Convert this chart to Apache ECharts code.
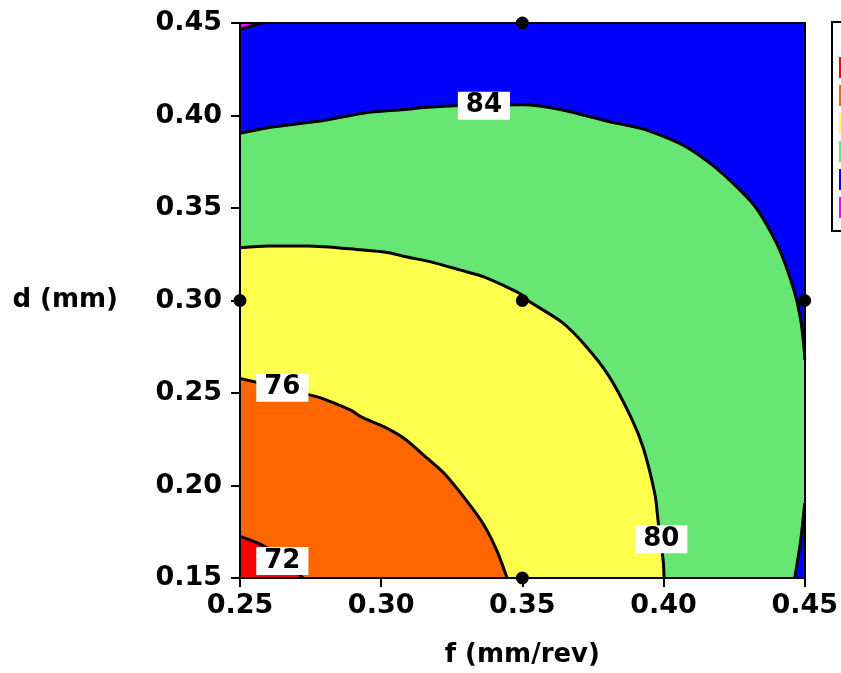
<!DOCTYPE html>
<html lang="en">
<head>
<meta charset="UTF-8">
<title>contour</title>
<script src="https://cdn.jsdelivr.net/npm/echarts@6/dist/echarts.min.js"></script>
<style>
    body{margin:0;background:#fff;}
    #main{width:841px;height:673px;}
</style>
</head>
<body>
<div id="main"></div>
<script>
// contour lines: [f, d]
var contour72 = [[0.25,0.1725],[0.2577,0.1679],[0.2659,0.1597],[0.2723,0.15]];
var contour76 = [[0.25,0.2579],[0.2753,0.2487],[0.2800,0.2466],[0.2894,0.2406],[0.2929,0.2371],[0.3011,0.2317],
    [0.3082,0.2254],[0.3164,0.2146],[0.3223,0.2066],[0.3305,0.1913],[0.3364,0.1787],[0.3411,0.1644],[0.3446,0.15]];
var contour80 = [[0.25,0.3285],[0.2600,0.3295],[0.2741,0.3295],[0.2929,0.3274],[0.3023,0.3260],[0.3082,0.3238],
    [0.3176,0.3209],[0.3282,0.3164],[0.3364,0.3128],[0.3435,0.3080],[0.3494,0.3035],[0.3511,0.3008],[0.3640,0.2883],
    [0.3723,0.2757],[0.3805,0.2595],[0.3887,0.2362],[0.3929,0.2200],[0.3970,0.1949],[0.3981,0.1807],[0.3999,0.1592],[0.4002,0.15]];
var contour84 = [[0.25,0.3904],[0.2599,0.3934],[0.2800,0.3974],[0.2941,0.4014],[0.3070,0.4031],[0.3163,0.4044],
    [0.3258,0.4053],[0.3505,0.4058],[0.3639,0.4031],[0.3805,0.3968],[0.3935,0.3924],[0.4076,0.3834],[0.4193,0.3708],
    [0.4323,0.3511],[0.4405,0.3295],[0.4464,0.3046],[0.4487,0.2884],[0.4499,0.2723],[0.45,0.268]];
var contour84b = [[0.4465,0.15],[0.4487,0.1716],[0.45,0.1904]];
var contour88 = [[0.25,0.4465],[0.2577,0.45]];
var topEdge = [[0.25,0.45],[0.45,0.45]];
var designPoints = [[0.35,0.45],[0.25,0.30],[0.35,0.30],[0.45,0.30],[0.35,0.15]];
var contourLabels = [[0.3364,0.4053,'84'],[0.3992,0.1710,'80'],[0.2650,0.2529,'76'],[0.2650,0.1592,'72']];
var bandNames = ['< 72','72 - 76','76 - 80','80 - 84','84 - 88','> 88'];
var bandColors = ['#ff0000','#ff6600','#ffff4d','#68e674','#0000ff','#ff00ff'];

var font = 'DejaVu Sans';
var myChart = echarts.init(document.getElementById('main'));

function band(name, data, color, origin, lineW) {
    return {
        name: name,
        type: 'line',
        data: data,
        showSymbol: false,
        smooth: 0.25,
        silent: true,
        itemStyle: {color: color},
        lineStyle: {color: '#000', width: lineW},
        areaStyle: {color: color, opacity: 1, origin: origin}
    };
}

var option = {
    animation: false,
    grid: {left: 240, right: 34, top: 23, bottom: 93},
    legend: {
        orient: 'vertical',
        left: 832,
        top: 22,
        padding: [35, 6, 13, 7],
        itemWidth: 20,
        itemHeight: 21,
        itemGap: 7,
        icon: 'rect',
        borderColor: '#000',
        borderWidth: 2,
        textStyle: {fontFamily: font, fontSize: 16},
        data: bandNames.map(function (n, i) {
            return {name: n, itemStyle: {color: bandColors[i], borderWidth: 0}};
        })
    },
    xAxis: [{
        type: 'value',
        min: 0.25, max: 0.45, interval: 0.05,
        z: 5,
        name: 'f (mm/rev)',
        nameLocation: 'middle',
        nameGap: 64,
        nameTextStyle: {fontFamily: font, fontWeight: 'bold', fontSize: 26, color: '#000'},
        axisLine: {lineStyle: {color: '#000', width: 2}},
        axisTick: {length: 9, lineStyle: {color: '#000', width: 2}},
        axisLabel: {margin: 14, fontFamily: font, fontWeight: 'bold', fontSize: 27, color: '#000',
            formatter: function (v) { return v.toFixed(2); }},
        splitLine: {show: false}
    }, {
        type: 'value', position: 'top', min: 0.25, max: 0.45, z: 5,
        axisLine: {show: true, lineStyle: {color: '#000', width: 2}},
        axisTick: {show: false}, axisLabel: {show: false}, splitLine: {show: false}
    }],
    yAxis: [{
        type: 'value',
        min: 0.15, max: 0.45, interval: 0.05,
        z: 5,
        name: 'd (mm)',
        nameLocation: 'middle',
        nameRotate: 0,
        nameGap: 122,
        nameTextStyle: {fontFamily: font, fontWeight: 'bold', fontSize: 26, color: '#000', align: 'right'},
        axisLine: {show: true, lineStyle: {color: '#000', width: 2}},
        axisTick: {length: 9, lineStyle: {color: '#000', width: 2}},
        axisLabel: {margin: 18, fontFamily: font, fontWeight: 'bold', fontSize: 27, color: '#000',
            formatter: function (v) { return v.toFixed(2); }},
        splitLine: {show: false}
    }, {
        type: 'value', position: 'right', min: 0.15, max: 0.45, z: 5,
        axisLine: {show: true, lineStyle: {color: '#000', width: 2}},
        axisTick: {show: false}, axisLabel: {show: false}, splitLine: {show: false}
    }],
    series: [
        band('84 - 88', topEdge, bandColors[4], 'start', 0),
        band('80 - 84', contour84, bandColors[3], 'start', 3),
        band('84 - 88', contour84b, bandColors[4], 'start', 3),
        band('76 - 80', contour80, bandColors[2], 'start', 3),
        band('72 - 76', contour76, bandColors[1], 'start', 3),
        band('< 72', contour72, bandColors[0], 'start', 3),
        band('> 88', contour88, bandColors[5], 'end', 3),
        {
            name: 'points',
            type: 'scatter',
            data: designPoints,
            symbolSize: 13,
            clip: false,
            silent: true,
            z: 6,
            itemStyle: {color: '#000', opacity: 1}
        },
        {
            name: 'labels',
            type: 'scatter',
            data: contourLabels,
            symbolSize: 0,
            silent: true,
            z: 7,
            itemStyle: {opacity: 1},
            label: {
                show: true,
                position: 'inside',
                formatter: function (p) { return p.value[2]; },
                backgroundColor: '#fff',
                opacity: 1,
                padding: [2, 8, 0, 8],
                fontFamily: font,
                fontWeight: 'bold',
                fontSize: 26,
                color: '#000'
            }
        }
    ]
};

if (option && typeof option === "object") {
    myChart.setOption(option, true);
}
</script>
</body>
</html>
